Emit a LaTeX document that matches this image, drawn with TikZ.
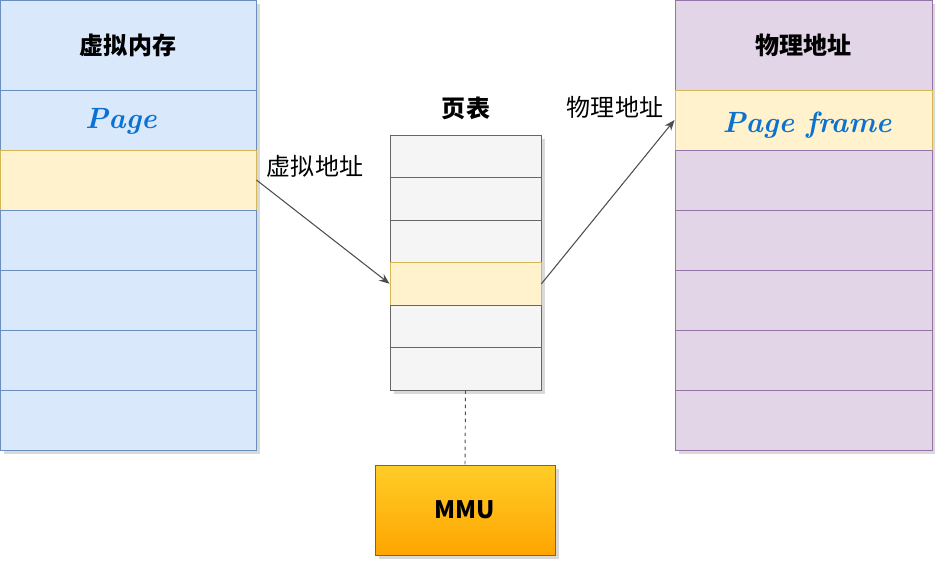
\documentclass[tikz,border=0pt]{standalone}
\usepackage{fontspec}
\newfontfamily\cjk{Noto Sans CJK SC}
\usetikzlibrary{arrows.meta, positioning}

\definecolor{vfill}{HTML}{DAE8FC}
\definecolor{vline}{HTML}{6C8EBF}
\definecolor{yfill}{HTML}{FFF2CC}
\definecolor{yline}{HTML}{D6B656}
\definecolor{pfill}{HTML}{E1D5E7}
\definecolor{pline}{HTML}{9673A6}
\definecolor{tfill}{HTML}{F5F5F5}
\definecolor{tline}{HTML}{666666}
\definecolor{hand}{HTML}{0B72D2}
\definecolor{arrowgray}{HTML}{4D4D4D}
\definecolor{mmutop}{HTML}{FFCD28}
\definecolor{mmubot}{HTML}{FFA500}

\begin{document}
\begin{tikzpicture}[
  x=0.03cm, y=-0.03cm,
  every node/.style={inner sep=0pt, font=\cjk\fontsize{20.5}{24}\selectfont},
  vcell/.style={rectangle, draw=vline, fill=vfill, line width=0.8pt, minimum width=7.68cm, minimum height=1.8cm},
  pcell/.style={rectangle, draw=pline, fill=pfill, line width=0.8pt, minimum width=7.71cm, minimum height=1.8cm},
  tcell/.style={rectangle, draw=tline, fill=tfill, line width=0.8pt, minimum width=4.53cm, minimum height=1.275cm},
  hot/.style={draw=yline, fill=yfill},
  title/.style={font=\cjk\bfseries\fontsize{20.5}{24}\selectfont},
  handtext/.style={font=\bfseries\itshape\fontsize{25}{29}\selectfont, text=hand},
  edge/.style={-{Stealth[length=9pt, width=7pt]}, line width=0.9pt, draw=arrowgray}
]
\useasboundingbox (0,0) rectangle (935,561);

% shadows
\fill[black!15] (4,4) rectangle (260,454);
\fill[black!15] (394,139) rectangle (545,394);
\fill[black!15] (679,4) rectangle (936,454);
\fill[black!15] (379,469) rectangle (559,559);

% virtual memory
\node[vcell, minimum height=2.7cm, title] (v0) at (128,45) {虚拟内存};
\node[vcell] (v1) at (128,120) {};
\node[vcell, hot] (v2) at (128,180) {};
\node[vcell] (v3) at (128,240) {};
\node[vcell] (v4) at (128,300) {};
\node[vcell] (v5) at (128,360) {};
\node[vcell] (v6) at (128,420) {};
\node[handtext] (page) at (121,121) {Page};

% page table
\node[title] (ttitle) at (466,108) {页表};
\node[tcell] (t1) at (465.5,156.25) {};
\node[tcell] (t2) at (465.5,198.75) {};
\node[tcell] (t3) at (465.5,241.25) {};
\node[tcell, hot] (t4) at (465.5,283.75) {};
\node[tcell] (t5) at (465.5,326.25) {};
\node[tcell] (t6) at (465.5,368.75) {};

% physical memory
\node[pcell, minimum height=2.7cm, title] (p0) at (803.5,45) {物理地址};
\node[pcell, hot] (p1) at (803.5,120) {};
\node[pcell] (p2) at (803.5,180) {};
\node[pcell] (p3) at (803.5,240) {};
\node[pcell] (p4) at (803.5,300) {};
\node[pcell] (p5) at (803.5,360) {};
\node[pcell] (p6) at (803.5,420) {};
\node[handtext] (frame) at (807,125) {Page frame};

% MMU
\node[rectangle, draw=tline, line width=0.8pt, top color=mmutop, bottom color=mmubot, minimum width=5.4cm, minimum height=2.7cm, title] (mmu) at (465,510) {MMU};

% labels
\node (vaddr) at (315,166) {虚拟地址};
\node (paddr) at (615,107) {物理地址};

% connectors
\draw[edge] (v2.east) -- (t4.west);
\draw[edge] (t4.east) -- (p1.west);
\draw[dashed, draw=arrowgray, line width=0.8pt] (t6.south) -- (mmu.north);

\end{tikzpicture}
\end{document}
